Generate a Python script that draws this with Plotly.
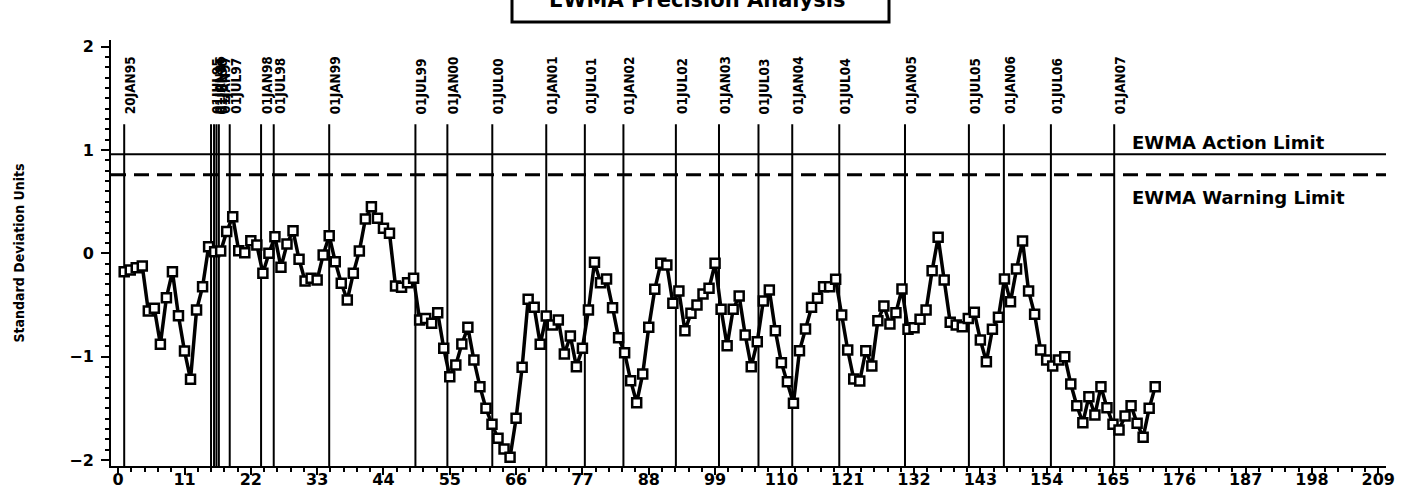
import plotly.graph_objects as go

# EWMA statistic per observation (standard deviation units)
obs = list(range(1, 173))
ewma = [
    -0.178, -0.162, -0.139, -0.123, -0.559, -0.533, -0.881, -0.430, -0.178, -0.604,
    -0.946, -1.220, -0.549, -0.323, 0.064, 0.016, 0.022, 0.210, 0.355, 0.025,
    0.006, 0.122, 0.080, -0.194, 0.000, 0.161, -0.136, 0.090, 0.219, -0.058,
    -0.268, -0.242, -0.258, -0.016, 0.170, -0.081, -0.290, -0.452, -0.194, 0.022,
    0.332, 0.451, 0.339, 0.242, 0.194, -0.317, -0.329, -0.284, -0.242, -0.646,
    -0.630, -0.678, -0.575, -0.920, -1.194, -1.081, -0.878, -0.717, -1.033, -1.291,
    -1.501, -1.656, -1.791, -1.895, -1.975, -1.597, -1.104, -0.445, -0.523, -0.881,
    -0.607, -0.694, -0.646, -0.975, -0.801, -1.097, -0.920, -0.549, -0.087, -0.284,
    -0.249, -0.526, -0.817, -0.962, -1.233, -1.446, -1.168, -0.717, -0.349, -0.097,
    -0.113, -0.484, -0.365, -0.749, -0.581, -0.500, -0.394, -0.339, -0.097, -0.542,
    -0.894, -0.542, -0.413, -0.791, -1.097, -0.855, -0.462, -0.355, -0.749, -1.059,
    -1.243, -1.452, -0.943, -0.733, -0.523, -0.436, -0.323, -0.323, -0.252, -0.597,
    -0.936, -1.217, -1.236, -0.943, -1.091, -0.652, -0.510, -0.684, -0.575, -0.346,
    -0.736, -0.720, -0.639, -0.549, -0.168, 0.155, -0.258, -0.668, -0.694, -0.710,
    -0.630, -0.571, -0.839, -1.049, -0.736, -0.620, -0.249, -0.468, -0.152, 0.119,
    -0.365, -0.591, -0.936, -1.033, -1.091, -1.033, -1.001, -1.265, -1.475, -1.640,
    -1.388, -1.565, -1.291, -1.494, -1.656, -1.711, -1.575, -1.475, -1.646, -1.781,
    -1.501, -1.291,
]

# Dated events and their position on the observation axis
event_labels = [
    "20JAN95", "01JUL95", "01JAN96", "01JUL96", "01JAN97", "01JUL97",
    "01JAN98", "01JUL98", "01JAN99", "01JUL99", "01JAN00", "01JUL00",
    "01JAN01", "01JUL01", "01JAN02", "01JUL02", "01JAN03", "01JUL03",
    "01JAN04", "01JUL04", "01JAN05", "01JUL05", "01JAN06", "01JUL06",
    "01JAN07",
]
event_x = [
    1.0, 15.4, 15.9, 16.3, 16.7, 18.5,
    23.7, 25.8, 35.0, 49.3, 54.6, 62.05,
    71.0, 77.4, 83.8, 92.5, 99.65, 106.2,
    111.8, 119.6, 130.5, 141.1, 146.9, 154.7,
    165.2,
]

action_limit = 0.96
warning_limit = 0.76
event_top = 1.25

x_ticks = list(range(0, 210, 11))
y_ticks = [-2, -1, 0, 1, 2]
x_range = [-1.19, 210.28]
y_range = [-2.059, 2.065]

# plot area in page pixels
L, R, T, B = 111, 1386, 40, 466
PW, PH = R - L, B - T

TICK_FONT = dict(family="DejaVu Sans", size=16, color="black", weight="bold")
NARROW = "Liberation Sans Narrow, DejaVu Sans Condensed, Arial Narrow, sans-serif"


def px_x(p):
    return (p - L) / PW


def px_y(p):
    return (B - p) / PH


fig = go.Figure()

fig.add_trace(go.Scatter(
    x=obs, y=ewma, mode="lines+markers",
    line=dict(color="black", width=3.5),
    marker=dict(symbol="square", size=9, color="white",
                line=dict(color="black", width=2.5)),
    showlegend=False, hoverinfo="x+y",
))

shapes = []
for ex in event_x:
    shapes.append(dict(type="line", xref="x", yref="y", x0=ex, x1=ex,
                       y0=y_range[0], y1=event_top,
                       line=dict(color="black", width=2), layer="below"))
shapes.append(dict(type="line", xref="paper", yref="y", x0=0, x1=1,
                   y0=action_limit, y1=action_limit,
                   line=dict(color="black", width=2), layer="below"))
shapes.append(dict(type="line", xref="paper", yref="y", x0=0, x1=1,
                   y0=warning_limit, y1=warning_limit,
                   line=dict(color="black", width=3, dash="15px,8px"), layer="below"))
# Title frame
shapes.append(dict(type="rect", xref="paper", yref="paper",
                   x0=px_x(512), x1=px_x(889), y0=px_y(22), y1=px_y(-30),
                   line=dict(color="black", width=3), fillcolor="white"))

annotations = []
for lbl, ex in zip(event_labels, event_x):
    annotations.append(dict(
        x=ex, y=px_y(116), xref="x", yref="paper", yanchor="bottom", xanchor="center",
        text=lbl, textangle=-90, showarrow=False, xshift=6,
        font=dict(family=NARROW, size=13.5, color="black", weight="bold"),
    ))

annotations.append(dict(
    x=px_x(1130), y=action_limit, xref="paper", yref="y",
    xanchor="left", yanchor="bottom", yshift=-1, text="EWMA Action Limit",
    showarrow=False, font=dict(family="DejaVu Sans", size=18, color="black", weight="bold"),
))
annotations.append(dict(
    x=px_x(1130), y=warning_limit, xref="paper", yref="y",
    xanchor="left", yanchor="top", yshift=-10, text="EWMA Warning Limit",
    showarrow=False, font=dict(family="DejaVu Sans", size=18, color="black", weight="bold"),
))
annotations.append(dict(
    x=px_x(697), y=px_y(8), xref="paper", yref="paper",
    xanchor="center", yanchor="bottom", yshift=-6,
    text="<b>EWMA Precision Analysis</b>", showarrow=False,
    font=dict(family="DejaVu Sans", size=21, color="black"),
))
annotations.append(dict(
    x=px_x(18.5), y=0.5, xref="paper", yref="paper", xanchor="center", yanchor="middle",
    text="Standard Deviation Units", textangle=-90, showarrow=False,
    font=dict(family=NARROW, size=14, color="black", weight="bold"),
))

fig.update_layout(
    width=1421, height=496,
    margin=dict(l=L, r=1421 - R, t=T, b=496 - B, autoexpand=False),
    paper_bgcolor="white", plot_bgcolor="white",
    shapes=shapes, annotations=annotations,
    xaxis=dict(
        range=x_range, tickvals=x_ticks, ticktext=[str(v) for v in x_ticks],
        showgrid=False, zeroline=False, showline=True, linecolor="black", linewidth=2,
        ticks="outside", ticklen=7, tickwidth=2, tickcolor="black",
        tickfont=TICK_FONT, automargin=False, ticklabelstandoff=-9,
        minor=dict(dtick=2.2, tick0=0, ticks="outside", ticklen=4, tickwidth=2,
                   tickcolor="black", showgrid=False),
    ),
    yaxis=dict(
        range=y_range, tickvals=y_ticks, ticktext=["\u22122", "\u22121", "0", "1", "2"],
        showgrid=False, zeroline=False, showline=True, linecolor="black", linewidth=2,
        ticks="outside", ticklen=8, tickwidth=2, tickcolor="black",
        tickfont=TICK_FONT, ticklabelstandoff=4, automargin=False,
        minor=dict(dtick=0.1, tick0=0, ticks="outside", ticklen=4, tickwidth=2,
                   tickcolor="black", showgrid=False),
    ),
)

fig.write_html("out.html")
